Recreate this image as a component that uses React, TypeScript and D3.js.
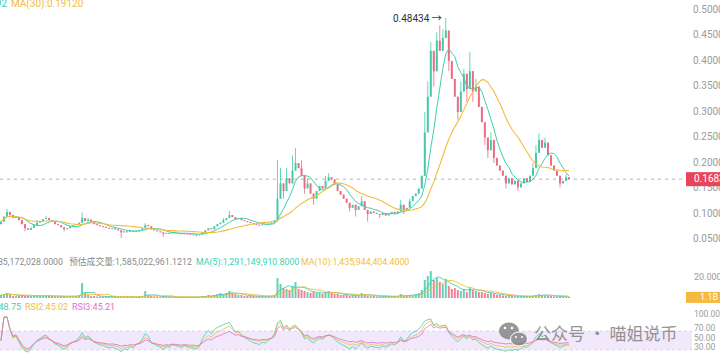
import React from 'react'
import * as d3 from 'd3'

// closes per candle
const closes = [
  0.085, 0.095, 0.104, 0.098, 0.092, 0.094, 0.088, 0.080, 0.072, 0.069,
  0.073, 0.078, 0.083, 0.086, 0.090, 0.092, 0.088, 0.085, 0.080, 0.078,
  0.074, 0.070, 0.072, 0.076, 0.078, 0.080, 0.083, 0.092, 0.086, 0.089,
  0.085, 0.080, 0.078, 0.076, 0.075, 0.073, 0.071, 0.072, 0.070, 0.068,
  0.064, 0.066, 0.065, 0.067, 0.066, 0.068, 0.069, 0.072, 0.078, 0.076,
  0.070, 0.068, 0.066, 0.064, 0.061, 0.063, 0.062, 0.064, 0.063, 0.062,
  0.061, 0.062, 0.061, 0.060, 0.060, 0.059, 0.060, 0.064, 0.068, 0.072,
  0.070, 0.076, 0.080, 0.083, 0.088, 0.092, 0.098, 0.094, 0.090, 0.092,
  0.088, 0.086, 0.084, 0.082, 0.080, 0.079, 0.078, 0.080, 0.079, 0.081,
  0.083, 0.088, 0.130, 0.160, 0.145, 0.170, 0.160, 0.185, 0.200, 0.190,
  0.175, 0.150, 0.160, 0.140, 0.130, 0.145, 0.155, 0.150, 0.165, 0.172,
  0.168, 0.158, 0.145, 0.138, 0.130, 0.122, 0.112, 0.118, 0.108, 0.115,
  0.125, 0.108, 0.100, 0.105, 0.102, 0.100, 0.098, 0.102, 0.097, 0.100,
  0.104, 0.101, 0.105, 0.118, 0.108, 0.112, 0.125, 0.135, 0.140, 0.150,
  0.175, 0.260, 0.330, 0.420, 0.380, 0.440, 0.420, 0.445, 0.460, 0.400,
  0.365, 0.330, 0.300, 0.340, 0.375, 0.345, 0.380, 0.340, 0.350, 0.310,
  0.280, 0.250, 0.225, 0.245, 0.210, 0.195, 0.185, 0.175, 0.160, 0.170,
  0.158, 0.165, 0.152, 0.160, 0.170, 0.163, 0.175, 0.190, 0.220, 0.245,
  0.230, 0.240, 0.215, 0.195, 0.185, 0.175, 0.160, 0.165, 0.172, 0.1683,
]
const firstOpen = 0.08

// wicks that stick out past the body: [candle index, price]
const highWicks: [number, number][] = [
  [2, 0.110], [12, 0.088], [15, 0.096], [27, 0.103], [29, 0.092], [48, 0.082],
  [74, 0.092], [76, 0.106], [92, 0.206], [93, 0.190], [95, 0.190], [97, 0.215],
  [98, 0.229], [100, 0.205], [102, 0.170], [108, 0.175], [109, 0.180], [120, 0.135],
  [133, 0.128], [136, 0.130], [141, 0.300], [142, 0.360], [143, 0.437], [145, 0.456],
  [146, 0.470], [147, 0.462], [148, 0.48434], [149, 0.440], [153, 0.360], [154, 0.385],
  [156, 0.418], [158, 0.365], [163, 0.260], [177, 0.200], [178, 0.235], [179, 0.258],
  [181, 0.250], [188, 0.178],
]
const lowWicks: [number, number][] = [
  [8, 0.066], [21, 0.066], [40, 0.053], [54, 0.055], [65, 0.056], [92, 0.085],
  [94, 0.130], [101, 0.140], [104, 0.118], [116, 0.105], [118, 0.095], [122, 0.085],
  [126, 0.092], [134, 0.100], [144, 0.350], [149, 0.380], [152, 0.285], [155, 0.320],
  [157, 0.320], [161, 0.235], [162, 0.210], [164, 0.200], [168, 0.150], [172, 0.145],
  [186, 0.152],
]

// volume in billions
const volumes = [
  3, 4, 5, 3, 2, 2, 2, 3, 2, 2,
  2, 2, 3, 2, 2, 2, 2, 2, 1.5, 1.5,
  1.5, 2, 1.5, 1.5, 2, 2, 3, 15, 5, 3,
  2, 2, 1.5, 1.5, 1.5, 1.5, 1, 1.5, 1.5, 1,
  2, 1.5, 1, 1, 1, 1, 1.5, 2, 7, 3,
  2, 1.5, 1.5, 1, 2, 1, 1, 1, 1, 1,
  1, 1, 1, 1, 1, 1, 1, 2, 2, 3,
  2, 3, 4, 5, 4, 5, 7, 5, 4, 3,
  3, 2, 2, 2, 2, 1.5, 2, 2, 1.5, 2,
  2, 3, 20, 14, 10, 9, 8, 12, 16, 9,
  8, 7, 6, 5, 6, 5, 5, 4, 6, 7,
  5, 4, 4, 3, 3, 3, 2.5, 3, 3, 2.5,
  5, 3, 2.5, 2, 2, 1.5, 1.5, 1.5, 1.5, 1.5,
  1.5, 2, 2, 4, 2, 2, 3, 3, 4, 5,
  8, 18, 22, 27, 18, 20, 16, 14, 19, 12,
  9, 10, 8, 7, 9, 6, 11, 8, 7, 6,
  6, 5, 4, 5, 4, 3, 3, 2.5, 2, 2,
  2, 1.5, 1.5, 1.5, 2, 1.5, 2, 2, 3, 4,
  3, 3, 2, 2, 1.5, 1.5, 1.5, 1, 1, 1.1,
]

const priceTicks = [0.05, 0.1, 0.15, 0.2, 0.25, 0.3, 0.35, 0.4, 0.45, 0.5]
const rsiTicks = [100, 70, 50, 30]
const volTick = 20
const lastVolLabel = '1.1B'

const UP = '#45c8a8'
const DOWN = '#ee6a82'
const TEAL = '#3fcfae'
const YELLOW = '#f3bd3c'
const PINK = '#dc6fc6'
const GRAY = '#9b9b9b'
const FONT = 'Roboto, "Noto Sans CJK SC", sans-serif'

function movingAvg(vals: number[], period: number) {
  return vals.map((_, i) => d3.mean(vals.slice(Math.max(0, i - period + 1), i + 1)) as number)
}

function rsi(vals: number[], period: number) {
  let g = 0
  let l = 0
  return vals.map((v, i) => {
    if (i === 0) return 50
    const ch = v - vals[i - 1]
    g = (g * (period - 1) + Math.max(ch, 0)) / period
    l = (l * (period - 1) + Math.max(-ch, 0)) / period
    return l === 0 ? 100 : 100 - 100 / (1 + g / l)
  })
}

export default function App() {
  const n = closes.length
  const opens = closes.map((c, i) => (i === 0 ? firstOpen : closes[i - 1]))
  const hi = new Map(highWicks)
  const lo = new Map(lowWicks)
  const highs = closes.map((c, i) => hi.get(i) ?? Math.max(c, opens[i]))
  const lows = closes.map((c, i) => lo.get(i) ?? Math.min(c, opens[i]))

  const x = d3.scaleBand<number>().domain(d3.range(n)).range([0, 570]).paddingInner(0.35)
  const cx = (i: number) => (x(i) as number) + x.bandwidth() / 2
  const py = d3.scaleLinear().domain([0, 0.5]).range([265, 10])
  const vy = d3.scaleLinear().domain([0, 20]).range([298, 278])
  const ry = d3.scaleLinear().domain([0, 100]).range([364, 317])

  const maFast = movingAvg(closes, 7)
  const maSlow = movingAvg(closes, 20)
  const volMa5 = movingAvg(volumes, 5)
  const volMa10 = movingAvg(volumes, 10)
  const rsi1 = rsi(closes, 9)
  const rsi2 = rsi(closes, 14)
  const rsi3 = rsi(closes, 24)

  const line = (vals: number[], y: d3.ScaleLinear<number, number>) =>
    d3.line<number>().x((_, i) => cx(i)).y(v => y(v))(vals) as string

  const last = closes[n - 1]
  const peakIdx = d3.maxIndex(highs)

  return (
    <svg width={720} height={364} style={{ position: 'absolute', left: 0, top: 0, background: '#fff' }}
      fontFamily={FONT}>
      {/* price pane */}
      <line x1={0} x2={686} y1={py(last)} y2={py(last)} stroke="#b5b5b5" strokeDasharray="3,4" />
      {closes.map((c, i) => {
        const o = opens[i]
        const col = c >= o ? UP : DOWN
        const top = py(Math.max(o, c))
        const h = Math.max(1, py(Math.min(o, c)) - top)
        return (
          <g key={i}>
            <line x1={cx(i)} x2={cx(i)} y1={py(highs[i])} y2={py(lows[i])} stroke={col} strokeWidth={0.8} />
            <rect x={x(i)} y={top} width={x.bandwidth()} height={h} fill={col} />
          </g>
        )
      })}
      <path d={line(maFast, py)} fill="none" stroke={TEAL} strokeWidth={1} />
      <path d={line(maSlow, py)} fill="none" stroke={YELLOW} strokeWidth={1.1} />
      <text x={cx(peakIdx) - 4} y={py(highs[peakIdx]) + 1} textAnchor="end" dominantBaseline="middle"
        fontSize={10} fill="#333">{d3.format('.5f')(highs[peakIdx])} →</text>
      <text x={7} y={7} textAnchor="end" fontSize={10} fill={TEAL}>MA(10):0.17592</text>
      <text x={11} y={7} fontSize={10} fill={YELLOW}>MA(30):0.19120</text>
      {priceTicks.map(t => (
        <text key={t} x={693} y={py(t)} dominantBaseline="middle" fontSize={10} fill={GRAY}>
          {d3.format('.4f')(t)}
        </text>
      ))}
      <rect x={686} y={py(last) - 7} width={34} height={14} fill="#e8455a" />
      <text x={694} y={py(last)} dominantBaseline="middle" fontSize={10} fill="#fff">{d3.format('.4f')(last)}</text>

      {/* volume pane */}
      <text x={63} y={265} textAnchor="end" fontSize={8.8} fill="#8a8a8a">VOL:1,385,172,028.0000</text>
      <text x={69} y={265} fontSize={8.8} fill="#8a8a8a">预估成交量:1,585,022,961.1212</text>
      <text x={196} y={265} fontSize={8.8} fill={TEAL}>MA(5):1,291,149,910.8000</text>
      <text x={301} y={265} fontSize={8.8} fill={YELLOW}>MA(10):1,435,944,404.4000</text>
      {volumes.map((v, i) => (
        <rect key={i} x={x(i)} y={vy(v)} width={x.bandwidth()} height={vy(0) - vy(v)}
          fill={closes[i] >= opens[i] ? UP : DOWN} opacity={0.85} />
      ))}
      <path d={line(volMa5, vy)} fill="none" stroke={TEAL} strokeWidth={0.9} />
      <path d={line(volMa10, vy)} fill="none" stroke={YELLOW} strokeWidth={0.9} />
      <text x={694} y={vy(volTick)} dominantBaseline="middle" fontSize={9} fill={GRAY}>20.000B</text>
      <rect x={686} y={vy(1.1) - 5} width={34} height={11} fill="#f5b940" />
      <text x={700} y={vy(1.1) + 0.5} dominantBaseline="middle" fontSize={9} fill="#fff">{lastVolLabel}</text>

      {/* rsi pane */}
      <rect x={0} y={ry(70)} width={692} height={ry(30) - ry(70)} fill="#f1e9fb" />
      <line x1={0} x2={692} y1={ry(70)} y2={ry(70)} stroke="#d9d2e6" strokeDasharray="3,3" />
      <line x1={0} x2={692} y1={ry(30)} y2={ry(30)} stroke="#d9d2e6" strokeDasharray="3,3" />
      <text x={21} y={310} textAnchor="end" fontSize={9} fill={TEAL}>RSI1:48.75</text>
      <text x={25} y={310} fontSize={9} fill={YELLOW}>RSI2:45.02</text>
      <text x={72} y={310} fontSize={9} fill={PINK}>RSI3:45.21</text>
      <path d={line(rsi1, ry)} fill="none" stroke={TEAL} strokeWidth={0.8} />
      <path d={line(rsi2, ry)} fill="none" stroke={YELLOW} strokeWidth={0.8} />
      <path d={line(rsi3, ry)} fill="none" stroke={PINK} strokeWidth={0.8} />
      {rsiTicks.map(t => (
        <text key={t} x={694} y={ry(t)} fontSize={8.5} fill={GRAY}>{d3.format('.2f')(t)}</text>
      ))}

      {/* watermark */}
      <g opacity={0.8}>
        <ellipse cx={509} cy={331} rx={10} ry={8.5} fill="#7f7f7f" />
        <ellipse cx={519} cy={339} rx={8.5} ry={7} fill="#7f7f7f" stroke="#fff" strokeWidth={1} />
        <circle cx={505} cy={328} r={1.3} fill="#fff" />
        <circle cx={512} cy={328} r={1.3} fill="#fff" />
        <circle cx={516} cy={337} r={1.1} fill="#fff" />
        <circle cx={522} cy={337} r={1.1} fill="#fff" />
        <text x={534} y={340} fontSize={17} fill="#7a7a7a" fontFamily='"Noto Sans CJK SC", sans-serif'>
          公众号 · 喵姐说币
        </text>
      </g>
    </svg>
  )
}
